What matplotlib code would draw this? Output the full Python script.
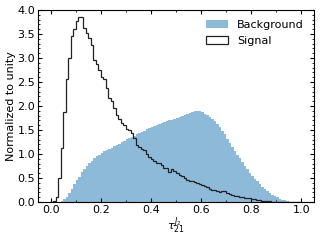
import numpy as np
import matplotlib
matplotlib.use("Agg")
import matplotlib.pyplot as plt
from matplotlib.ticker import MultipleLocator, AutoMinorLocator

# bin edges 0..1, 100 bins
edges = np.linspace(0.0, 1.0, 101)

# normalized bin heights
background = [
    0.0, 0.0, 0.0, 0.01, 0.03, 0.06, 0.11, 0.18, 0.27, 0.37,
    0.45, 0.53, 0.62, 0.69, 0.75, 0.81, 0.86, 0.91, 0.95, 0.99,
    1.03, 1.06, 1.08, 1.10, 1.12, 1.16, 1.19, 1.22, 1.26, 1.28,
    1.31, 1.34, 1.36, 1.38, 1.41, 1.44, 1.46, 1.49, 1.52, 1.55,
    1.57, 1.59, 1.61, 1.63, 1.65, 1.67, 1.69, 1.70, 1.72, 1.74,
    1.76, 1.78, 1.80, 1.82, 1.84, 1.86, 1.88, 1.89, 1.90, 1.89,
    1.87, 1.84, 1.81, 1.77, 1.73, 1.68, 1.62, 1.56, 1.49, 1.41,
    1.32, 1.23, 1.15, 1.07, 0.99, 0.91, 0.84, 0.76, 0.69, 0.61,
    0.55, 0.49, 0.43, 0.37, 0.32, 0.28, 0.24, 0.19, 0.15, 0.12,
    0.10, 0.07, 0.05, 0.04, 0.02, 0.01, 0.005, 0.0, 0.0, 0.0,
]

signal = [
    0.0, 0.02, 0.1, 0.5, 1.12, 1.88, 2.56, 3.0, 3.46, 3.6,
    3.78, 3.86, 3.86, 3.62, 3.53, 3.41, 3.27, 2.97, 2.88, 2.75,
    2.6, 2.56, 2.37, 2.16, 2.1, 1.95, 1.82, 1.74, 1.64, 1.6,
    1.53, 1.5, 1.44, 1.33, 1.19, 1.14, 1.1, 1.08, 1.01, 0.94,
    0.9, 0.85, 0.82, 0.81, 0.77, 0.72, 0.7, 0.63, 0.68, 0.65,
    0.6, 0.56, 0.54, 0.51, 0.47, 0.44, 0.44, 0.42, 0.39, 0.37,
    0.35, 0.33, 0.31, 0.28, 0.26, 0.25, 0.24, 0.21, 0.23, 0.24,
    0.18, 0.16, 0.14, 0.13, 0.12, 0.11, 0.10, 0.09, 0.08, 0.08,
    0.07, 0.06, 0.05, 0.04, 0.03, 0.03, 0.02, 0.02, 0.01, 0.01,
    0.01, 0.005, 0.0, 0.0, 0.0, 0.0, 0.0, 0.0, 0.0, 0.0,
]

centers = 0.5 * (edges[:-1] + edges[1:])

fig = plt.figure(figsize=(3.2, 2.4), dpi=100)
ax = fig.add_axes([0.119, 0.158, 0.862, 0.8])

ax.hist(centers, bins=edges, weights=background, color='tab:blue',
        alpha=0.5, label='Background')
ax.hist(centers, bins=edges, weights=signal, histtype='step',
        color='#222222', linewidth=0.9, label='Signal')

ax.set_xlim(-0.05, 1.05)
ax.set_ylim(0, 4.0)
ax.xaxis.set_major_locator(MultipleLocator(0.2))
ax.xaxis.set_minor_locator(AutoMinorLocator(2))
ax.yaxis.set_major_locator(MultipleLocator(0.5))
ax.yaxis.set_minor_locator(AutoMinorLocator(5))
ax.tick_params(which='both', direction='in', top=True, right=True, labelsize=8, pad=2)
ax.tick_params(which='major', length=3)
ax.tick_params(which='minor', length=1.5)

ax.set_xlabel(r'$\tau_{21}^{J_2}$', fontsize=8, labelpad=0)
ax.set_ylabel('Normalized to unity', fontsize=8, labelpad=1)
ax.legend(loc='upper right', frameon=False, fontsize=8)

fig.savefig('out.png', dpi=100)
